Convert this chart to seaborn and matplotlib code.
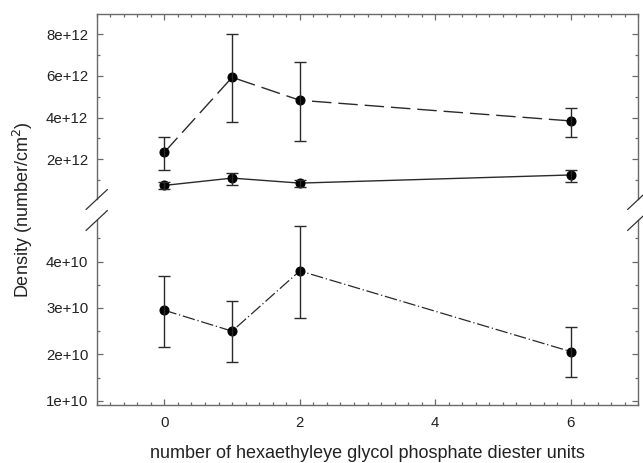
import numpy as np
import pandas as pd
import matplotlib
matplotlib.use("Agg")
import matplotlib.pyplot as plt
from matplotlib.lines import Line2D
from matplotlib.ticker import MultipleLocator, FuncFormatter
import seaborn as sns

# ---------- DATA ----------
units = [0, 1, 2, 6]

# upper series, dashed
dashed_density = [2.34e12, 5.93e12, 4.83e12, 3.84e12]
dashed_low = [1.47e12, 3.78e12, 2.87e12, 3.08e12]
dashed_high = [3.06e12, 8.00e12, 6.65e12, 4.46e12]

# upper series, solid
solid_density = [0.75e12, 1.10e12, 0.86e12, 1.25e12]
solid_low = [0.59e12, 0.78e12, 0.67e12, 0.91e12]
solid_high = [0.91e12, 1.34e12, 1.03e12, 1.51e12]

# lower series, dash-dot
dashdot_density = [2.95e10, 2.50e10, 3.80e10, 2.06e10]
dashdot_low = [2.16e10, 1.83e10, 2.79e10, 1.52e10]
dashdot_high = [3.70e10, 3.14e10, 4.76e10, 2.60e10]

top_ticks = [2e12, 4e12, 6e12, 8e12]
bottom_ticks = [1e10, 2e10, 3e10, 4e10]
x_ticks = [0, 2, 4, 6]

# ---------- STYLE ----------
sns.set_style("ticks")
plt.rcParams["font.family"] = ["Liberation Sans", "DejaVu Sans"]
spine_col = "#6a6a6a"
line_col = "#2a2a2a"

fig = plt.figure(figsize=(6.43, 4.63), dpi=100)
ax_top = fig.add_axes([0.1504, 0.570, 0.8423, 0.400])
ax_bot = fig.add_axes([0.1504, 0.126, 0.8423, 0.399])


def draw_series(ax, y, lo, hi, ls, lw):
    df = pd.DataFrame({"units": units, "density": y})
    sns.lineplot(data=df, x="units", y="density", ax=ax, color=line_col,
                 linewidth=lw, linestyle=ls, marker="o", markersize=6.5,
                 markerfacecolor="black", markeredgecolor="black")
    yerr = [np.array(y) - np.array(lo), np.array(hi) - np.array(y)]
    ax.errorbar(units, y, yerr=yerr, fmt="none", ecolor=line_col,
                elinewidth=1.0, capsize=4, capthick=1.0)


draw_series(ax_top, dashed_density, dashed_low, dashed_high, (0, (14, 5)), 1.0)
draw_series(ax_top, solid_density, solid_low, solid_high, "-", 1.0)
draw_series(ax_bot, dashdot_density, dashdot_low, dashdot_high,
            (0, (10, 2.2, 1, 2.2)), 0.9)

fmt = FuncFormatter(lambda v, _: f"{v:.0e}")

ax_top.set_xlim(-1, 7)
ax_top.set_ylim(0.094e12, 8.97e12)
ax_top.set_yticks(top_ticks)
ax_top.yaxis.set_minor_locator(MultipleLocator(1e12))
ax_top.yaxis.set_major_formatter(fmt)

ax_bot.set_xlim(-1, 7)
ax_bot.set_ylim(0.914e10, 4.9e10)
ax_bot.set_yticks(bottom_ticks)
ax_bot.yaxis.set_minor_locator(MultipleLocator(0.5e10))
ax_bot.yaxis.set_major_formatter(fmt)

for ax in (ax_top, ax_bot):
    ax.set_xticks(x_ticks)
    ax.xaxis.set_minor_locator(MultipleLocator(0.2))
    ax.set_xlabel("")
    ax.set_ylabel("")
    for s in ax.spines.values():
        s.set_color(spine_col)
        s.set_linewidth(1.0)
    ax.tick_params(which="both", direction="in", color=spine_col,
                   labelsize=10.8, labelcolor="#222222", width=0.9)
    ax.tick_params(which="major", length=4.5)
    ax.tick_params(which="minor", length=2.5)
    ax.tick_params(axis="y", which="major", pad=6)

# top panel: ticks on top and right, no bottom spine
ax_top.spines["bottom"].set_visible(False)
ax_top.tick_params(axis="x", which="both", bottom=False, top=True,
                   labelbottom=False, labeltop=False)
ax_top.tick_params(axis="y", which="both", left=True, right=True)

# bottom panel: no top spine
ax_bot.spines["top"].set_visible(False)
ax_bot.tick_params(axis="x", which="both", bottom=True, top=False, pad=8)
ax_bot.tick_params(axis="y", which="both", left=True, right=True)

# axis break marks
W, H = 643, 463
for xp in (96.7, 638.3):
    for yp in (199.5, 220.5):
        fig.add_artist(Line2D([(xp - 10.7) / W, (xp + 10.7) / W],
                              [1 - (yp + 10) / H, 1 - (yp - 10) / H],
                              color="#333333", linewidth=0.9))

fig.text(0.036, 0.5475, "Density (number/cm$^2$)", rotation=90,
         ha="center", va="center", fontsize=13, color="#222222")
fig.text(0.571, 1 - 458 / H, "number of hexaethyleye glycol phosphate diester units",
         ha="center", va="baseline", fontsize=13, color="#222222")

plt.savefig("out.png", dpi=100)
